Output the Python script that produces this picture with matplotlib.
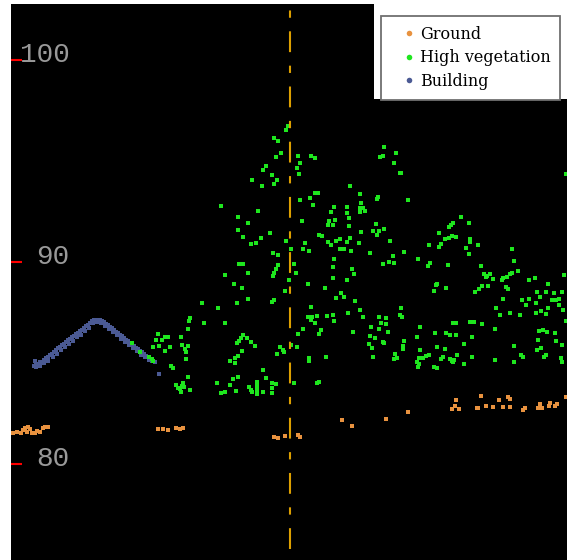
import matplotlib
matplotlib.use("Agg")
import matplotlib.pyplot as plt
from matplotlib.lines import Line2D
from matplotlib.patches import Rectangle
from matplotlib.transforms import blended_transform_factory

# elevation profile, x = distance along section, z = elevation (m)
ground_x = [0.2, 0.6, 1.0, 1.2, 1.4, 1.6, 1.7, 1.9, 2.1, 2.4, 2.6, 2.9, 3.2, 3.4, 3.7,
            14.7, 15.2, 15.7, 16.5, 16.9, 17.2,
            26.3, 26.7, 27.4, 28.7, 28.9, 33.1, 34.1, 37.5, 39.7,
            44.1, 44.4, 44.5, 44.8, 46.6, 46.7, 47.0, 47.5, 48.2, 48.8, 49.2, 49.7, 49.9, 49.9,
            51.2, 51.4, 52.7, 52.9, 53.1, 53.8, 53.9, 54.4, 54.6, 55.5]
ground_z = [81.53, 81.58, 81.53, 81.68, 81.78, 81.58, 81.83, 81.73, 81.53, 81.53, 81.63, 81.58, 81.78, 81.83, 81.83,
            81.73, 81.73, 81.68, 81.78, 81.73, 81.78,
            81.34, 81.29, 81.39, 81.44, 81.34, 82.18, 81.88, 82.23, 82.57,
            82.72, 82.87, 83.17, 82.72, 82.77, 82.77, 83.37, 82.87, 82.82, 83.17, 82.82, 83.32, 83.22, 82.82,
            82.67, 82.77, 82.77, 82.97, 82.77, 82.87, 83.02, 82.87, 82.97, 83.32]

veg_x = [27.5, 27.7, 26.3, 26.7, 27.0, 26.5, 25.5, 25.2, 26.1, 26.6, 24.1, 25.1, 26.3,
         28.7, 30.0, 30.4, 28.9, 28.6, 28.8, 37.3, 37.2, 36.9, 38.5, 38.3, 38.9,
         21.0, 24.7, 22.7, 23.7, 22.7, 23.2, 25.0, 25.9, 24.5, 24.0, 26.2, 26.7,
         27.5, 28.0, 29.1, 28.9, 30.4, 30.7, 29.9, 30.2, 29.2, 29.4, 29.8,
         30.8, 31.1, 31.7, 31.8, 32.4, 32.2, 32.3, 32.0, 33.6, 33.6, 33.8, 33.8, 33.9, 34.9, 35.0,
         34.9, 35.2, 35.4, 34.9, 35.0, 33.9, 33.6, 32.9, 32.5, 32.0, 31.7, 33.3, 32.9, 34.0, 34.8,
         32.3, 35.9, 36.5, 36.2, 36.6, 36.8, 37.3, 37.9, 36.7, 36.6, 38.2,
         22.8, 23.2, 21.4, 23.7, 22.3, 23.1, 22.6, 23.7, 19.1, 20.7, 19.3, 21.4, 17.9,
         26.7, 26.5, 26.3, 26.2, 26.1, 26.3, 27.4, 27.8, 28.3, 28.5,
         29.7, 31.4, 32.2, 32.2, 34.1, 34.3, 33.6, 33.0, 33.3, 32.5, 34.4, 34.9, 33.7, 35.2,
         30.0, 29.7, 30.1, 30.6, 31.6, 32.2, 32.3, 30.4, 30.0, 29.2, 28.7, 30.8, 31.0, 34.2,
         37.2, 37.8, 38.3, 36.8, 37.0, 36.8, 37.5, 37.5, 37.7, 36.0, 35.9, 36.4, 35.8, 37.3,
         36.1, 36.2, 38.4, 38.6,
         23.2, 23.0, 22.8, 22.6, 23.6, 24.0, 24.4, 23.1, 22.7, 22.4, 22.4, 21.9,
         26.9, 27.2, 27.3, 26.6, 28.0, 28.6, 29.8, 29.8, 31.5,
         25.2, 25.5, 22.7, 22.2, 20.6, 21.9, 21.0, 21.4, 22.5, 23.8, 24.0, 24.1,
         24.6, 24.6, 24.6, 24.6, 25.2, 26.1, 26.1, 26.1, 26.5, 28.3, 30.6, 30.8,
         45.0, 45.8, 44.2, 44.0, 43.8, 42.8, 44.1, 44.5, 43.8, 43.4, 43.0, 42.8, 41.8,
         45.9, 45.9, 46.7, 45.5, 45.8, 50.1, 50.3, 39.3, 40.7, 41.9, 41.7, 43.7, 47.0,
         42.6, 42.5, 42.3, 43.5, 46.4, 46.8, 47.1, 47.7, 47.3, 47.5, 47.6, 47.9, 48.2,
         49.1, 49.2, 49.5, 49.7, 49.6, 49.9, 50.1, 50.7, 51.8, 52.4, 53.7, 55.3,
         49.2, 48.5, 48.9, 49.9, 50.9, 51.1, 51.5, 51.8, 52.5, 52.6, 52.9, 53.5, 54.1,
         54.3, 54.5, 54.8, 54.8, 55.1, 55.2, 53.7, 53.5, 52.5, 53.0, 55.5,
         39.0, 38.9, 39.1, 37.2, 39.3, 39.2, 39.2, 38.3, 40.9, 40.6, 40.9, 42.4, 42.6,
         43.4, 43.9, 43.5, 44.5, 44.2, 44.5, 45.9, 46.3, 47.1, 46.1, 45.3, 48.4, 50.3,
         48.4, 50.3, 51.0, 51.2, 40.6, 40.8, 40.8, 40.7, 41.2, 41.5, 41.8, 42.6, 42.3,
         43.0, 43.2, 43.9, 44.1, 44.3, 44.2, 44.6, 45.3, 46.1,
         52.8, 53.2, 53.6, 54.4, 52.7, 54.5, 55.1, 53.0, 52.6, 53.5, 53.3, 55.0, 55.1,
         39.0, 39.7, 55.5,
         17.8, 17.7, 17.0, 14.7, 14.5, 15.1, 15.4, 15.7, 14.2, 14.8, 15.4, 15.9, 17.1,
         17.4, 17.5, 17.7, 17.5, 14.1, 16.0, 16.2, 17.7, 16.5, 16.9, 17.2, 17.3, 17.9,
         17.0, 16.7, 17.1, 12.1, 12.9, 13.8, 14.2]
veg_z = [96.53, 96.73, 96.14, 95.99, 95.40, 95.20, 94.75, 94.55, 94.31, 94.06, 94.06, 93.76, 93.86,
         95.25, 95.25, 95.15, 94.90, 94.65, 94.36, 95.69, 95.25, 95.20, 95.40, 94.90, 94.41,
         92.77, 92.52, 92.23, 91.93, 91.58, 91.24, 91.19, 91.44, 90.94, 90.89, 90.45, 90.35,
         91.04, 90.64, 92.03, 93.07, 93.42, 93.42, 93.17, 92.82, 90.64, 90.94, 90.54,
         91.34, 91.29, 91.83, 92.03, 92.08, 91.83, 92.72, 92.48, 92.72, 92.43, 92.18, 91.78, 93.76, 93.37, 92.92,
         92.67, 92.67, 92.52, 92.48, 91.49, 91.19, 90.99, 91.14, 91.04, 90.84, 90.99, 90.64, 90.64, 90.54, 90.94,
         90.15, 90.45, 91.88, 91.53, 91.34, 91.53, 91.63, 91.04, 93.22, 93.12, 90.30,
         89.90, 89.90, 89.36, 89.46, 88.91, 88.71, 87.97, 88.17, 87.97, 87.72, 86.98, 86.98, 87.23,
         89.85, 89.65, 89.46, 89.31, 88.02, 88.12, 88.56, 89.11, 89.90, 89.46,
         88.91, 88.71, 89.21, 89.75, 89.65, 89.41, 89.11, 88.47, 88.27, 88.22, 88.07, 87.62, 87.48, 87.28,
         87.77, 87.28, 87.28, 87.33, 87.33, 87.38, 87.08, 86.98, 87.13, 86.68, 86.44, 86.44, 86.63, 86.53,
         89.90, 90.00, 89.95, 87.28, 86.98, 86.68, 87.23, 86.93, 86.53, 86.78, 86.34, 86.24, 85.94, 85.99,
         85.74, 85.30, 85.45, 85.25,
         86.39, 86.24, 86.09, 85.99, 86.24, 86.04, 85.84, 85.59, 85.35, 85.25, 85.00, 85.10,
         85.79, 85.64, 85.54, 85.45, 85.89, 85.79, 85.25, 85.10, 85.30,
         84.65, 84.26, 84.31, 84.21, 84.01, 83.91, 83.51, 83.56, 83.61, 83.81, 83.66, 83.56,
         84.06, 83.86, 83.66, 83.47, 83.56, 84.01, 83.76, 83.51, 83.96, 84.01, 84.01, 84.06,
         92.23, 91.93, 91.93, 91.83, 91.73, 91.44, 91.29, 91.24, 91.19, 91.14, 90.89, 90.74, 90.84,
         91.14, 90.99, 90.84, 90.69, 90.40, 90.64, 90.05, 90.50, 90.15, 89.95, 89.80, 89.85, 89.80,
         88.91, 88.86, 88.56, 88.71, 88.51, 88.66, 88.81, 88.81, 89.41, 89.26, 89.31, 89.41, 89.16,
         89.11, 89.21, 88.76, 88.66, 89.26, 89.41, 89.46, 89.55, 89.11, 89.21, 88.91, 89.36,
         88.17, 87.72, 87.38, 87.48, 87.38, 88.12, 87.87, 88.17, 87.97, 88.51, 88.27, 88.51, 88.12,
         88.47, 88.12, 88.17, 87.87, 88.51, 87.62, 87.72, 87.43, 87.48, 87.57, 87.08,
         87.72, 87.38, 87.28, 86.04, 86.09, 85.84, 85.69, 85.20, 86.78, 86.29, 85.64, 86.49, 85.79,
         85.69, 86.39, 86.49, 86.39, 86.98, 86.98, 87.03, 87.03, 86.93, 86.29, 85.94, 86.68, 85.84,
         85.15, 85.05, 85.40, 85.30, 85.05, 85.25, 84.95, 84.80, 85.25, 85.35, 85.40, 84.75, 84.80,
         85.20, 85.30, 85.20, 85.10, 85.15, 85.05, 85.40, 84.95, 85.30,
         86.58, 86.63, 86.53, 86.49, 86.14, 86.09, 85.89, 85.74, 85.64, 85.40, 85.30, 85.25, 85.05,
         94.41, 93.07, 94.36,
         87.08, 86.68, 86.29, 86.44, 86.14, 86.14, 86.29, 86.29, 85.79, 85.84, 85.59, 85.79, 85.89,
         85.69, 85.54, 85.84, 85.20, 85.20, 84.85, 84.75, 84.31, 83.91, 83.71, 84.01, 83.81, 83.66,
         83.56, 83.76, 83.86, 85.99, 85.54, 85.30, 85.10]

bldg_x = [2.3, 2.5, 2.7, 2.9, 3.1, 3.3, 3.5, 3.7, 3.9, 4.1, 4.3, 4.5, 4.7, 4.9, 5.1, 5.3, 5.5, 5.7,
          5.9, 6.1, 6.3, 6.5, 6.7, 6.9, 7.1, 7.3, 7.5, 7.7, 7.9, 8.1, 8.3, 8.5, 8.7, 8.9, 9.1, 9.3,
          9.5, 9.7, 9.9, 10.1, 10.3, 10.5, 10.7, 10.9, 11.1, 11.3, 11.5, 11.7, 11.9, 12.1, 12.3,
          12.5, 12.7, 12.9, 13.1, 13.3, 13.5, 13.7, 13.9, 14.1,
          2.5, 2.9, 3.3, 3.7, 4.2, 4.6, 5.0, 5.4, 5.8, 6.2, 6.6, 7.0, 7.4, 7.8, 8.2, 8.6, 9.0,
          9.4, 9.8, 10.2, 10.6, 11.0, 11.4, 11.8, 12.2, 12.6, 13.0, 13.4, 13.8,
          2.4, 14.8, 14.4]
bldg_z = [84.85, 84.95, 84.90, 85.05, 85.00, 85.15, 85.25, 85.30, 85.40, 85.45, 85.54, 85.64, 85.74,
          85.79, 85.89, 85.94, 86.04, 86.14, 86.19, 86.29, 86.34, 86.44, 86.49, 86.58, 86.63, 86.73,
          86.83, 86.88, 86.98, 87.08, 87.13, 87.13, 87.13, 87.13, 87.08, 87.03, 86.93, 86.88, 86.78,
          86.73, 86.63, 86.53, 86.49, 86.39, 86.34, 86.24, 86.14, 86.09, 85.99, 85.89, 85.84, 85.74,
          85.69, 85.59, 85.54, 85.45, 85.35, 85.30, 85.20, 85.10,
          84.80, 84.85, 85.00, 85.10, 85.30, 85.45, 85.64, 85.79, 85.94, 86.09, 86.29, 86.39, 86.58,
          86.73, 86.98, 87.03, 86.98, 86.83, 86.68, 86.53, 86.39, 86.19, 86.04, 85.89, 85.74, 85.59,
          85.40, 85.30, 85.15,
          85.10, 84.46, 85.05]

class_labels = ["Ground", "High vegetation", "Building"]
class_colors = ["#e8923f", "#1ee61e", "#4b5a94"]
y_ticks = [80, 90, 100]
section_x = 27.9

fig = plt.figure(figsize=(5.67, 5.60), dpi=100)
ax = fig.add_axes([11 / 567, 0, 556 / 567, 556 / 560])
ax.set_facecolor("black")
for s in ax.spines.values():
    s.set_visible(False)

ms = 2.3
ax.plot(bldg_x, bldg_z, ls="none", marker="s", ms=ms, mew=0, color=class_colors[2])
ax.plot(ground_x, ground_z, ls="none", marker="s", ms=ms, mew=0, color=class_colors[0])
ax.plot(veg_x, veg_z, ls="none", marker="s", ms=ms, mew=0, color=class_colors[1])

# vertical section marker
ax.axvline(section_x, ymin=0.02, color="#dc9f00", lw=1.5, ls=(0, (10, 6.5, 3.5, 6.5)))

ax.set_xlim(0, 55.6)
ax.set_ylim(75.25, 102.77)
ax.set_xticks([])
ax.set_yticks(y_ticks)
ax.tick_params(axis="y", direction="in", length=8, width=1.5, colors="red",
               labelleft=False, left=True)

trans = blended_transform_factory(ax.transAxes, ax.transData)
for t in y_ticks:
    ax.text(0.105, t - 0.1, str(t), transform=trans, ha="right", va="baseline",
            fontsize=20, family="Liberation Mono", color="#999999")

# white backing panel behind the legend box
ax.add_patch(Rectangle((374 / 567, 461 / 560), 193 / 567, 95 / 560, transform=fig.transFigure,
                       facecolor="white", edgecolor="none", zorder=4, clip_on=False))

handles = [Line2D([], [], ls="none", marker="o", ms=4, mew=0, color=c) for c in class_colors]
leg = ax.legend(handles, class_labels, loc="upper right", bbox_to_anchor=(0.9874, 0.9785),
                borderaxespad=0, fancybox=False, framealpha=1, edgecolor="#707070",
                prop={"family": "DejaVu Serif", "size": 11.5}, borderpad=0.6,
                labelspacing=0.42, handlelength=2.3, handletextpad=-0.46)
leg.get_frame().set_linewidth(1.3)
leg.set_zorder(5)

fig.savefig("out.png", dpi=100)
